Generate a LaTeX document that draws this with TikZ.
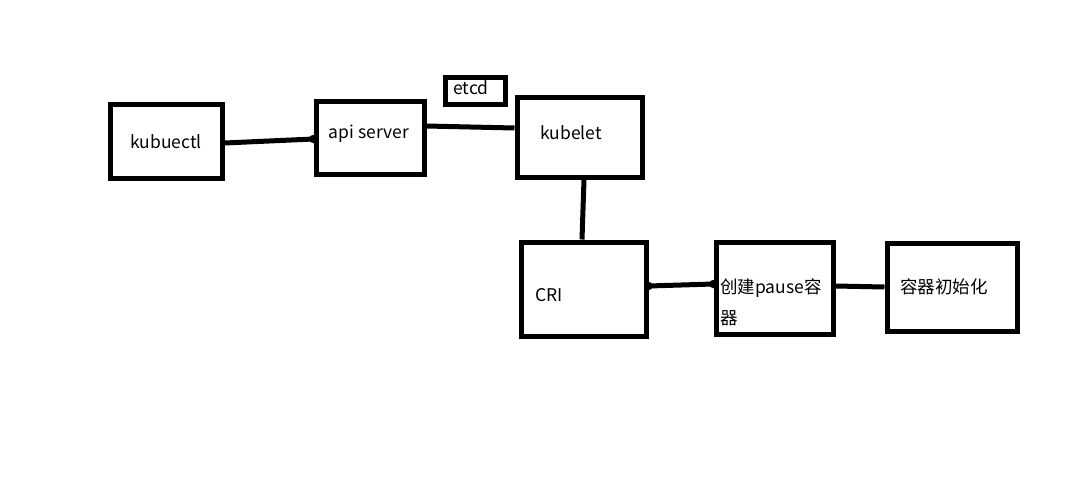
\documentclass[tikz,border=0pt]{standalone}
\usepackage{fontspec}
\newfontfamily\cjk{Noto Sans CJK SC}
\begin{document}
\begin{tikzpicture}[x=1pt,y=-1pt,
  box/.style={draw=black,line width=5pt,inner sep=0pt,minimum width=#1},
  lbl/.style={font=\cjk\fontsize{17.5}{31}\selectfont,inner sep=0pt,text=black},
  conn/.style={line width=5pt,draw=black},
  dotend/.style={fill=black,circle,inner sep=0pt,minimum size=8.5pt}]
\useasboundingbox[fill=white] (0,0) rectangle (1079,483);
% boxes
\node[box=112pt,minimum height=74pt] (kub) at (166,141) {};
\node[box=108pt,minimum height=73pt] (api) at (370,137.5) {};
\node[box=60pt,minimum height=27pt] (etcd) at (475,90.5) {};
\node[box=125pt,minimum height=80pt] (klet) at (579.5,137) {};
\node[box=125pt,minimum height=94pt] (cri) at (583.5,289) {};
\node[box=117pt,minimum height=92pt] (pause) at (774.5,288) {};
\node[box=130pt,minimum height=88pt] (init) at (952,287) {};
% labels
\node[lbl] (tkub) at (166,142) {kubuectl};
\node[lbl] (tapi) at (369,134) {api server};
\node[lbl] (tetcd) at (471,88) {etcd};
\node[lbl] (tklet) at (571,133) {kubelet};
\node[lbl] (tcri) at (549,295) {CRI};
\node[lbl,anchor=west,align=left] (tpause) at (720,302) {创建pause容\\器};
\node[lbl] (tinit) at (944,287) {容器初始化};
% connectors
\draw[conn] ([yshift=-2pt]kub.east) -- ([yshift=-1.5pt]api.west);
\node[dotend] (d1) at ([yshift=-1.5pt]api.west) {};
\draw[conn] ([yshift=11.5pt]api.east) -- ([yshift=9pt]klet.west);
\draw[conn] ([xshift=4.5pt]klet.south) -- ([xshift=-1.5pt]cri.north);
\draw[conn] ([yshift=3pt]cri.east) -- ([yshift=4pt]pause.west);
\node[dotend] (d2) at ([yshift=3pt]cri.east) {};
\node[dotend] (d3) at ([yshift=4pt]pause.west) {};
\draw[conn] ([yshift=2pt]pause.east) -- (init.west);
\end{tikzpicture}
\end{document}
